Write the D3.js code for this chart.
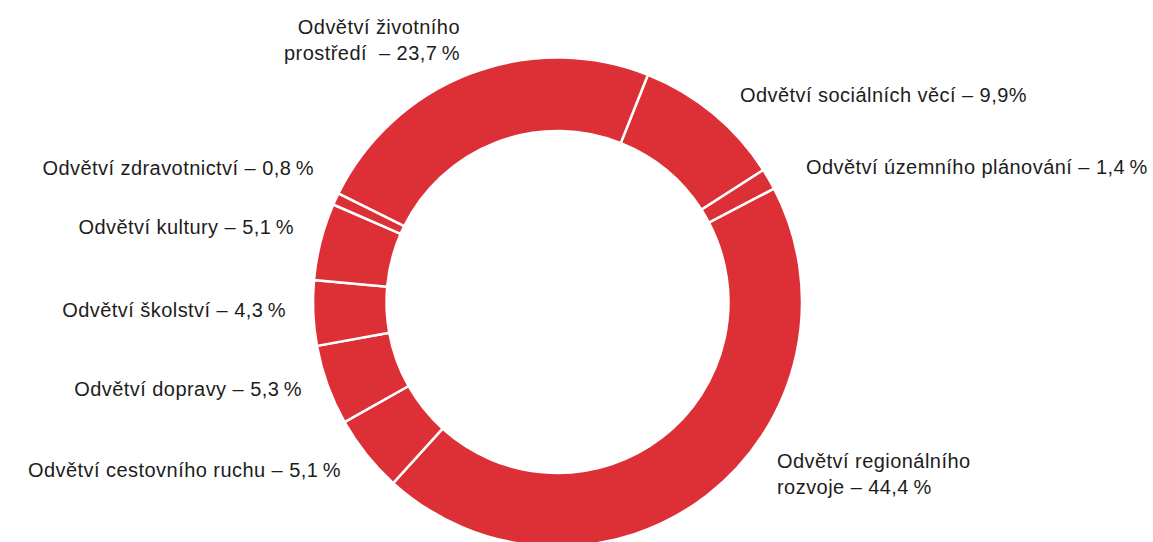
<!DOCTYPE html>
<html>
<head>
<meta charset="utf-8">
<script src="https://cdn.jsdelivr.net/npm/d3@7"></script>
<style>
  html, body { margin: 0; padding: 0; background: #ffffff; }
  svg { display: block; }
  text { font-family: "Liberation Sans", Arial, sans-serif; fill: #1d1d1b; white-space: pre; }
</style>
</head>
<body>
<svg id="chart" width="1153" height="542"></svg>
<script>
// ---- data ----
const categories = [
  ["Odvětví sociálních věcí"],
  ["Odvětví územního plánování"],
  ["Odvětví regionálního", "rozvoje"],
  ["Odvětví cestovního ruchu"],
  ["Odvětví dopravy"],
  ["Odvětví školství"],
  ["Odvětví kultury"],
  ["Odvětví zdravotnictví"],
  ["Odvětví životního", "prostředí "]
];
const values = [9.9, 1.4, 44.4, 5.1, 5.3, 4.3, 5.1, 0.8, 23.7];
const percentSeparators = ["", "\u2009", "\u2009", "\u2009", "\u2009", "\u2009", "\u2009", "\u2009", "\u2009"];

// ---- layout (positions kept separate from data) ----
const labelLayout = [
  { x: 740, y: 102, anchor: "start" },
  { x: 806, y: 174, anchor: "start" },
  { x: 777, y: 468, anchor: "start" },
  { x: 341, y: 477, anchor: "end" },
  { x: 302, y: 396, anchor: "end" },
  { x: 286, y: 317, anchor: "end" },
  { x: 294, y: 234, anchor: "end" },
  { x: 314, y: 175, anchor: "end" },
  { x: 460, y: 34,  anchor: "end" }
];

const W = 1153, H = 542;
const cx = 557.5, cy = 302;
const outerR = 244.5, innerR = 171;
const startDeg = 21.7;
const color = "#dc2f36";
const lineH = 26;

const svg = d3.select("#chart");
const fmt = v => v.toFixed(1).replace(".", ",");

const pie = d3.pie()
  .sort(null)
  .value(d => d)
  .startAngle(startDeg * Math.PI / 180)
  .endAngle(startDeg * Math.PI / 180 + 2 * Math.PI);

const arc = d3.arc().innerRadius(innerR).outerRadius(outerR);

const g = svg.append("g").attr("transform", `translate(${cx},${cy})`);
g.selectAll("path")
  .data(pie(values))
  .join("path")
  .attr("d", arc)
  .attr("fill", color)
  .attr("stroke", "#ffffff")
  .attr("stroke-width", 2.5)
  .attr("stroke-linejoin", "miter");

const labels = svg.append("g")
  .attr("font-size", 20)
  .attr("letter-spacing", 0.45);
categories.forEach((lines, i) => {
  const L = labelLayout[i];
  const t = labels.append("text")
    .attr("x", L.x)
    .attr("y", L.y)
    .attr("text-anchor", L.anchor)
    .attr("xml:space", "preserve");
  lines.forEach((ln, j) => {
    const isLast = j === lines.length - 1;
    const txt = isLast ? `${ln} – ${fmt(values[i])}${percentSeparators[i]}%` : ln;
    t.append("tspan")
      .attr("x", L.x)
      .attr("y", L.y + j * lineH)
      .text(txt);
  });
});
</script>
</body>
</html>
